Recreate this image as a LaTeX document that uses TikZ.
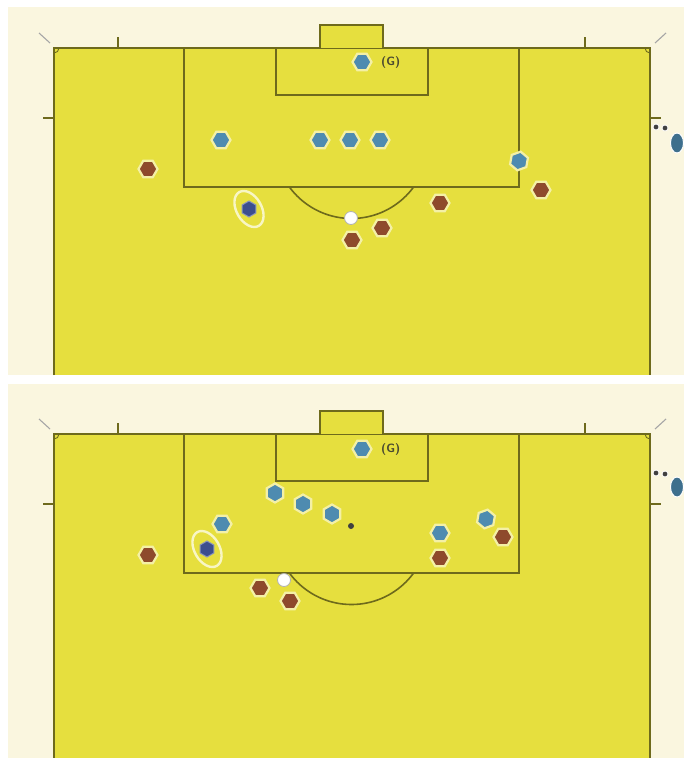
\documentclass[tikz,border=0pt]{standalone}
\usetikzlibrary{shapes.geometric}
\definecolor{cream}{HTML}{FAF6DF}
\definecolor{pitch}{HTML}{E6DF3E}
\definecolor{pline}{HTML}{6E6A1C}
\definecolor{pblue}{HTML}{4E8BB0}
\definecolor{pdark}{HTML}{3C4E8E}
\definecolor{pred}{HTML}{8E4A2C}
\definecolor{halo}{HTML}{F4F0A6}
\definecolor{hlring}{HTML}{F8F6C4}
\definecolor{labc}{HTML}{4A4A30}
\tikzset{
  pl/.style={line width=2.2pt, draw=pline},
  thin/.style={line width=1.6pt, draw=pline},
  player/.style={regular polygon, regular polygon sides=6, minimum size=19pt, inner sep=0pt, line width=2.2pt, draw=halo},
  bp/.style={player, fill=pblue},
  rp/.style={player, fill=pred},
  dp/.style={player, fill=pdark, minimum size=16pt, draw=pdark!60!white, line width=1pt},
  ballst/.style={circle, minimum size=13pt, inner sep=0pt, fill=white, draw=gray!60, line width=0.8pt},
  hl/.style={ellipse, minimum width=25pt, minimum height=39pt, inner sep=0pt, draw=hlring, line width=2.4pt},
  lab/.style={font=\sffamily\bfseries\fontsize{12}{14}\selectfont, text=labc, inner sep=0pt},
  dotst/.style={circle, minimum size=6pt, inner sep=0pt, fill=black!75, draw=white, line width=0.8pt},
  offp/.style={ellipse, minimum width=13pt, minimum height=20pt, inner sep=0pt, fill=pblue!80!black, draw=white, line width=1pt},
}
\newcommand{\pitchlines}{%
    \fill[pitch] (320,25) rectangle (383,48);
    \draw[thin] (320,48) -- (320,25) -- (383,25) -- (383,48);
    \draw[thin] (184,48) -- (184,187) -- (519,187) -- (519,48);
    \draw[thin] (276,48) -- (276,95) -- (428,95) -- (428,48);
    \begin{scope}
      \clip (184,188) rectangle (519,260);
      \draw[thin] (351.5,141.5) circle[radius=77pt];
    \end{scope}
    \draw[thin, line width=0.9pt] (54,53) arc[start angle=-90, end angle=0, radius=5pt];
    \draw[thin, line width=0.9pt] (645,48) arc[start angle=180, end angle=270, radius=5pt];
    \draw[thin] (118,37) -- (118,48);
    \draw[thin] (585,37) -- (585,48);
    \draw[thin] (43,118) -- (54,118);
    \draw[thin] (650,118) -- (661,118);
    \draw[line width=1.1pt, draw=gray!70] (39,33) -- (50,43);
    \draw[line width=1.1pt, draw=gray!70] (666,33) -- (655,43);}
\begin{document}
\begin{tikzpicture}[x=1pt, y=-1pt]
\useasboundingbox (0,0) rectangle (684,758);
\fill[white] (0,0) rectangle (684,758);
% ---- top panel
\begin{scope}
  \fill[cream] (8,7) rectangle (684,375);
  \fill[pitch] (54,48) rectangle (650,375);
  \draw[pl] (54,375) -- (54,48) -- (650,48) -- (650,375);
  \pitchlines
\end{scope}
% ---- bottom panel
\begin{scope}[shift={(0,386)}]
  \fill[cream] (8,-2) rectangle (684,372);
  \fill[pitch] (54,48) rectangle (650,372);
  \draw[pl] (54,372) -- (54,48) -- (650,48) -- (650,372);
  \pitchlines
\end{scope}
% ---- top panel players
\node[bp] (tg) at (362,62) {};
\node[lab, anchor=west] (tgl) at (381,62) {(G)};
\node[bp] (tb1) at (221,140) {};
\node[bp] (tb2) at (320,140) {};
\node[bp] (tb3) at (350,140) {};
\node[bp] (tb4) at (380,140) {};
\node[bp, rotate=20] (tb5) at (519,161) {};
\node[hl, rotate=30] (th) at (249,209) {};
\node[dp, rotate=30] (td) at (249,209) {};
\node[rp] (tr1) at (148,169) {};
\node[rp] (tr2) at (440,203) {};
\node[rp] (tr3) at (541,190) {};
\node[rp] (tr4) at (382,228) {};
\node[rp] (tr5) at (352,240) {};
\node[ballst] (tball) at (351,218) {};
\node[offp] (to) at (677,143) {};
\node[dotst] (tdot1) at (656,127) {};
\node[dotst] (tdot2) at (665,128) {};
% ---- bottom panel players
\node[bp] (bg) at (362,449) {};
\node[lab, anchor=west] (bgl) at (381,449) {(G)};
\node[bp, rotate=-30] (bb1) at (275,493) {};
\node[bp, rotate=-30] (bb2) at (303,504) {};
\node[bp, rotate=-30] (bb3) at (332,514) {};
\node[dotst, minimum size=6pt, draw=none] (bdot) at (351,526) {};
\node[bp] (bb4) at (222,524) {};
\node[bp] (bb5) at (440,533) {};
\node[bp, rotate=20] (bb6) at (486,519) {};
\node[hl, rotate=30] (bh) at (207,549) {};
\node[dp, rotate=30] (bd) at (207,549) {};
\node[rp] (br1) at (148,555) {};
\node[rp] (br2) at (440,558) {};
\node[rp] (br3) at (503,537) {};
\node[rp] (br4) at (260,588) {};
\node[rp] (br5) at (290,601) {};
\node[ballst] (bball) at (284,580) {};
\node[offp] (bo) at (677,487) {};
\node[dotst] (bdot1) at (656,473) {};
\node[dotst] (bdot2) at (665,474) {};
\end{tikzpicture}
\end{document}
